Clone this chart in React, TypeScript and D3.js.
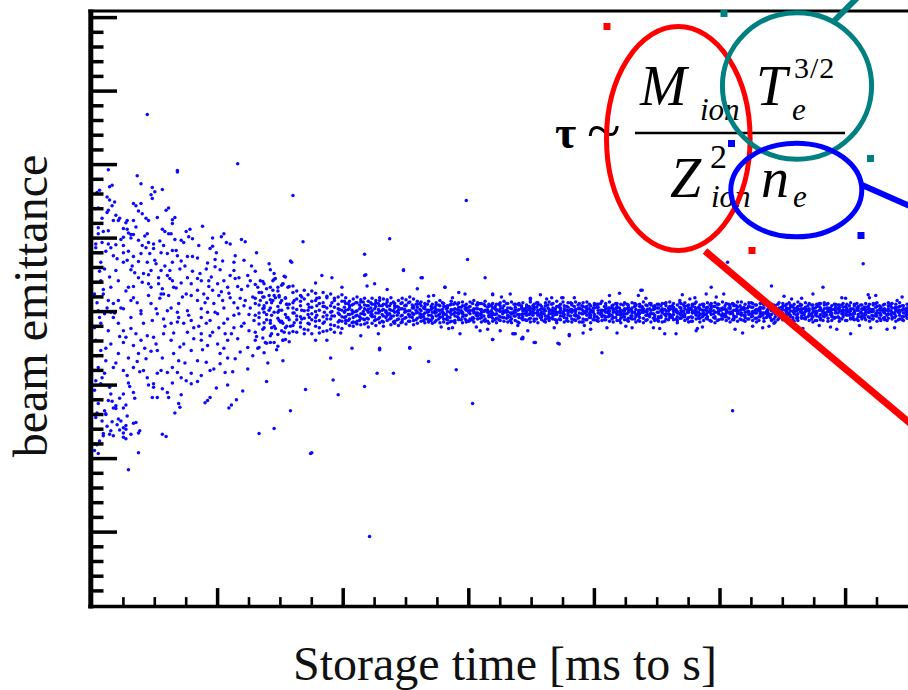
import React from 'react';
import * as d3 from 'd3';

// Storage time (arbitrary units, major tick every 100) and beam emittance (arbitrary units, major tick every 100)
const xMajorTicks = [0, 100, 200, 300, 400, 500, 600];
const xMinorTicks = [25, 50, 75, 125, 150, 175, 225, 250, 275, 325, 350, 375, 425, 450, 475, 525, 550, 575, 625];
const yMajorTicks = [100, 200, 300, 400, 500, 600, 700, 800];
const yMinorTicks = [20, 40, 60, 80, 120, 140, 160, 180, 220, 240, 260, 280, 320, 340, 360, 380, 420, 440, 460, 480, 520, 540, 560, 580, 620, 640, 660, 680, 720, 740, 760, 780];

const xLabel = 'Storage time [ms to s]';
const yLabel = 'beam emittance';

// early (hot) beam: [time, emittance]
const earlyPoints: [number, number][] = [
[14,570],[39,574],[48,569],[56,566],[47,559],[48,554],[4,562],[12,556],
[33,547],[39,547],[61,541],[37,537],[16,544],[12,535],[5,541],[17,524],[21,524],[28,524],[33,524],[45,524],[64,525],[64,520],
[5,514],[13,510],[25,513],[29,507],[31,505],[33,505],[44,506],[61,506],[63,506],[75,509],[77,502],[5,506],[73,494],[25,501],[37,497],[45,494],[49,492],[57,490],[105,506],[107,494],[119,498],[25,490],
[3,492],[13,492],[25,480],[17,476],[20,472],[29,482],[33,475],[39,479],[43,487],[46,479],[49,486],[55,480],[64,483],[67,483],[60,479],[68,476],[76,475],[80,475],[84,473],[94,486],[98,471],[104,469],[114,476],[113,467],[141,465],[142,457],[158,469],[64,467],[71,469],[37,468],[44,467],[51,465],[25,467],[7,467],[10,458],
[19,456],[31,457],[47,456],[55,456],[62,456],[70,458],[34,453],[37,446],[41,452],[53,446],[60,449],[64,442],[62,445],[76,446],[84,445],[91,458],[98,461],[102,457],[113,456],[110,449],[117,446],[124,449],[126,442],[134,442],[144,442],[146,445],[152,438],[7,442],[15,433],[21,442],[29,433],[33,434],[45,438],[47,433],[53,438],[56,431],[65,433],[71,439],[79,438],[87,442],[93,442],[93,434],[100,438],[105,442],[108,433],[116,434],[124,435],[132,433],[137,438],[144,429],[148,433],[156,433],
[2,424],[9,424],[13,415],[17,411],[21,415],[23,405],[25,404],[31,415],[33,419],[45,422],[47,411],[55,424],[57,424],[61,422],[63,405],[69,411],[75,424],[79,422],[84,429],[84,415],[89,424],[92,418],[96,429],[97,411],[101,422],[104,415],[105,405],[110,419],[113,412],[118,418],[122,415],[126,405],[130,411],[134,415],[137,408],[141,422],[144,415],[146,419],[150,412],[154,418],[156,405],[60,401],[68,399],[76,401],[87,404],[92,399],[116,405],[137,399],[148,399],[39,401],[15,399],[5,401],
[10,397],[17,392],[21,384],[7,384],[2,378],[13,374],[25,374],[31,377],[39,397],[41,384],[48,388],[52,397],[57,390],[63,384],[69,392],[73,384],[79,388],[81,378],[87,392],[91,384],[94,388],[100,397],[101,378],[105,384],[108,390],[113,378],[117,397],[121,384],[125,374],[129,388],[133,392],[137,378],[142,388],[146,377],[152,384],[156,392],[35,370],[44,367],[57,370],[65,371],[87,370],[94,367],[106,370],
[3,361],[15,356],[25,358],[33,354],[39,361],[49,365],[51,356],[63,361],[73,356],[81,363],[87,361],[92,354],[100,356],[108,361],[116,363],[124,351],[132,350],[137,344],[142,358],[152,361],[7,347],[11,333],[21,343],[29,337],[37,343],[43,336],[52,347],[56,337],[65,343],[69,333],[79,347],[84,333],[91,331],[102,343],[108,337],[114,336],[152,333],
[5,324],[10,316],[17,324],[25,320],[28,313],[33,324],[41,320],[44,310],[52,316],[60,317],[64,324],[68,317],[71,310],[79,316],[87,313],[94,320],[102,329],[106,317],[75,306],[3,306],[7,302],[29,303],[49,302],[64,303],[79,302],[49,297],
[2,293],[15,288],[25,288],[33,290],[48,283],[52,283],[56,295],[61,283],[69,275],[92,279],[94,283],[109,269],[5,275],[13,279],[17,269],[19,272],[25,269],[10,265],
[3,256],[11,261],[21,254],[25,242],[25,235],[33,248],[15,238],[9,234],[17,231],[25,229],[37,235],[59,230],[133,234],[145,241],[2,220],[6,224],[5,207],[37,208],[158,265],[29,185],
[13,593],[36,585],[68,590],[6,565],[16,572],[50,563],[14,552],[18,549],[35,544],[59,538],[40,533],[66,528],[43,527],[27,521],[22,527],[19,531],[13,538],[78,512],[80,499],[71,497],[96,489],[103,502],[110,492],[122,495],[58,509],[66,498],[42,503],[54,496],[31,500],[28,512],[23,498],[19,491],[9,509],[8,494],[3,487],[15,487],
[16,278],[19,268],[27,273],[11,260],[23,251],[20,246],[8,251],[27,245],[35,249],[12,244],[22,239],[27,240],[31,233],[38,238],[14,233],[9,231],[27,227],[56,233],[4,219],[2,211],[70,270],[90,276],[111,273],
[3,540],[8,527],[11,482],[6,455],[14,447],[9,430],[4,412],[12,405],[18,398],[6,392],[22,366],[11,350],[4,340],[19,330],[8,310],[14,297],[22,282],[4,262],[16,250],[28,258],[34,282],[30,298],[38,318],[36,332],[42,350],[27,365],[31,392],[36,412],[27,428],[40,440],[32,462],[28,470],[40,490],[35,515],[52,528],[56,512],[50,470],[58,462],[45,450],[54,418],[51,404],[58,380],[47,346],[55,320],[45,300],[60,290],[66,262],[71,287],[74,330],[70,352],[76,372],[68,386],[77,395],[72,420],[67,432],[80,455],[74,462],[85,490],[88,516],[96,500],[99,480],[92,466],[86,452],[95,447],[103,427],[90,412],[98,399],[85,380],[96,372],[88,348],[97,322],[84,305],[99,296],[108,300],[112,318],[105,350],[118,345],[111,370],[119,380],[113,395],[121,408],[109,425],[119,430],[114,445],[127,462],[121,470],[131,480],[130,455],[128,420],[135,426],[125,396],[131,366],[128,340],[138,358],[124,322],[140,330],[147,348],[143,370],[150,386],[141,402],[149,422],[145,452],[153,448],[155,410],[158,380],[153,372],[139,305],[120,292],[115,280]
];

// cooled beam, columns of [time, emittance values...]
const bandColumns: number[][] = [
[130,372,418,395,437,361],[133,409,383,426,351,398],[136,441,376,404,364,420],[139,357,412,389,431,396],[142,384,433,367,405,416],
[145,422,358,399,380,444],[148,369,407,428,391,353],[151,415,374,436,387,402],[154,396,362,419,447,378],[157,434,389,371,410,359],
[160,381,412,398,426,373,405],[163,417,389,372,403,428,394],[166,393,422,408,379,385,414],[169,376,401,429,391,417,370],[172,410,384,396,423,375,402],
[175,428,370,406,389,414,397],[178,387,415,380,400,425,392],[181,402,378,419,411,388,371],[184,373,407,393,426,384,412],[187,419,395,374,405,390,421],
[190,390,424,408,382,399,376],[193,406,381,415,394,372,418],[196,379,410,398,420,386,404],[199,414,387,377,402,423,393],
[202,393,411,384,402,419,388],[205,405,381,396,414,390,408],[208,386,399,417,392,380,410],[211,412,395,387,420,401,383],[214,397,416,382,406,391,413],
[217,383,404,409,396,418,389],[220,408,390,379,414,399,403],[223,401,418,393,384,410,396],[226,389,407,415,398,381,412],[229,415,385,400,392,408,419],
[232,394,410,386,417,403,380],[235,407,398,413,388,395,416],[238,382,402,394,411,419,391],[241,411,387,405,399,384,408],[244,398,415,390,381,406,402],
[247,386,404,418,395,412,389],[250,409,392,383,408,400,416],[253,395,413,401,387,420,393],[256,417,388,407,396,382,405],[259,391,406,414,384,399,410],
[262,396,408,387,401,413,392],[265,404,390,411,385,398,407],[268,389,402,395,414,386,400],[271,410,393,384,405,399,391],[274,399,412,403,388,394,409],
[277,385,397,408,392,415,402],[280,407,386,398,411,390,396],[283,393,405,389,400,408,384],[286,401,414,396,387,403,410],[289,388,399,412,394,385,404],
[292,412,391,402,406,397,389],[295,397,408,385,399,413,393],[298,405,388,410,395,402,386],[301,390,401,397,413,388,407],[304,398,415,391,386,404,400],
[307,409,394,404,398,390,412],[310,386,403,411,392,399,396],[313,402,390,387,408,414,401],[316,395,407,399,384,393,410],[319,411,398,405,396,387,391],
[322,391,385,402,410,403,397],[325,404,412,393,388,400,408],[328,387,399,408,401,392,414],[331,400,392,386,405,411,395],[334,413,404,397,390,398,385],
[337,394,388,410,403,406,399],[340,403,409,392,396,385,411],[343,389,401,404,412,397,393],[346,406,395,388,399,409,402],[349,397,413,400,386,391,405],
[352,410,390,406,398,403,387],[355,385,402,395,409,412,399],[358,399,407,389,393,404,396],[361,408,394,412,401,386,390],[364,392,400,403,388,397,413],
[367,401,411,394,405,390,398],[370,388,396,407,399,414,385],[373,405,389,398,410,402,394],[376,396,404,386,392,408,401],[379,412,398,401,387,395,406],
[382,390,386,409,403,399,411],[385,403,413,396,394,388,400],[388,398,392,404,411,405,386],[391,386,401,390,397,412,407],[394,407,395,413,400,389,403],
[397,395,408,399,385,402,392],[400,411,389,405,396,393,409],[403,391,402,387,410,406,398],[406,400,414,393,402,396,388],[409,404,393,408,389,399,411],
[412,387,405,401,397,413,394],[415,409,399,386,404,392,401],[418,396,388,411,400,405,407],[421,402,410,395,391,398,385],[424,389,397,404,412,401,393],
[427,406,391,399,387,409,403],[430,398,412,390,405,394,400],[433,393,403,408,396,386,410],[436,410,387,397,402,407,392],[439,385,401,413,399,391,404],
[442,403,396,389,408,400,395],[445,397,409,402,386,411,398],[448,408,392,395,404,388,406],[451,391,405,410,393,399,387],[454,400,398,386,411,404,402],
[457,412,394,401,397,390,408],[460,394,407,392,403,413,396],[463,403,389,406,400,396,411],[466,388,400,398,409,385,393],[469,405,411,391,395,402,399],
[472,396,393,412,388,407,404],[475,409,402,399,405,392,386],[478,392,408,387,398,410,401],[481,401,395,404,413,397,390],[484,386,404,396,391,403,409],
[487,407,398,410,402,388,395],[490,399,390,393,406,412,400],[493,411,405,401,387,396,408],[496,393,412,407,399,391,385],[499,404,397,389,410,400,402],
[502,390,403,413,394,405,397],[505,402,388,398,401,393,411],[508,397,409,404,386,399,406],[511,410,394,391,408,402,389],[514,387,401,406,397,413,400],
[517,405,413,395,389,398,403],[520,395,399,410,404,387,392],[523,408,390,400,396,407,412],[526,400,406,388,411,394,398],[529,391,398,403,402,409,386],
[532,406,411,397,393,400,404],[535,398,387,409,405,391,410],[538,412,402,394,399,403,396],[541,389,396,401,388,410,407],[544,403,408,386,404,397,393],
[547,394,391,412,400,405,399],[550,407,403,398,392,389,411],[553,399,410,405,396,402,388],[556,386,395,393,409,406,401],[559,410,404,400,387,399,397],
[562,397,388,407,403,413,392],[565,404,400,391,398,394,409],[568,392,412,403,406,390,400],[571,401,397,388,411,404,395],[574,409,405,399,393,386,403],
[577,388,394,410,400,407,398],[580,405,402,396,389,411,391],[583,398,409,404,397,393,412],[586,411,391,387,403,400,405],[589,393,403,408,395,398,388],
[592,402,398,392,410,406,401],[595,387,406,400,404,391,409],[598,406,393,411,399,402,396],[601,399,410,395,388,405,403],[604,391,401,404,412,396,390],
[607,408,397,389,401,410,399],[610,396,405,407,393,388,402],[613,403,390,398,409,404,394],[616,389,411,402,396,399,406],[619,410,399,392,404,387,400],
[622,400,394,409,390,403,411],[625,394,407,401,398,412,387],[628,405,402,388,406,395,397],[631,398,389,410,400,404,392],[634,412,404,397,391,401,408],
[637,390,398,405,411,393,399],[640,401,410,394,387,406,403],[643,407,395,402,399,390,412],[646,393,403,408,404,398,388],[649,402,391,396,410,405,399]
];

// further cooled-beam readings between the columns above
const bandColumns2: number[][] = [
[137,405,385,420],[143,395,412,378],[149,388,420,402],[155,410,392,380],[161,398,385,415],[167,402,420,390],[173,392,406,383],[179,408,395,418],[185,399,386,407],[191,412,394,400],[197,388,403,396],
[201,392,406,399,414],[204,403,388,411,396],[207,397,409,385,402],[210,385,400,394,412],[213,409,393,404,388],
[216,400,413,390,397],[219,391,402,408,385],[222,412,395,399,405],[225,388,404,393,410],[228,403,398,411,390],
[231,396,387,402,408],[234,410,401,392,399],[237,390,408,397,403],[240,401,394,413,386],[243,407,389,400,395],
[246,394,411,385,404],[249,399,403,408,391],[252,387,396,401,412],[255,405,392,398,409],[258,398,410,389,402],
[261,411,397,403,393],[264,393,405,396,388],[267,402,390,410,399],[270,388,403,395,407],[273,406,398,386,401],
[276,395,409,402,390],[279,403,393,399,412],[282,390,404,407,396],[285,409,399,392,386],[288,397,387,403,410],
[291,403,410,398,393],[294,389,401,406,399],[297,408,395,390,404],[300,399,406,401,387],[303,392,389,411,402],
[306,404,398,395,409],[309,396,411,403,391],[312,410,394,388,400],[315,387,402,399,406],[318,401,408,393,397],
[321,407,396,404,389],[324,394,389,410,401],[327,400,405,397,392],[330,391,399,402,411],[333,405,393,388,398],
[336,398,410,400,394],[339,410,402,396,386],[342,396,391,405,408],[345,389,404,401,397],[348,403,396,390,407],
[351,395,408,403,399],[354,406,390,398,412],[357,392,403,409,396],[360,401,397,387,404],[363,409,405,394,391],
[366,397,391,402,410],[369,404,400,389,396],[372,390,408,406,399],[375,399,394,398,413],[378,407,402,391,388],
[381,394,412,400,403],[384,401,389,407,395],[387,391,404,394,409],[390,408,397,403,386],[393,398,406,389,400],
[396,404,392,410,397],[399,389,401,399,405],[402,406,410,393,388],[405,396,398,402,411],[408,402,389,407,394],
[411,393,405,398,401],[414,405,395,390,408],[417,399,411,404,392],[420,388,400,396,405],[423,409,393,401,397],
[426,397,404,410,389],[429,403,391,394,402],[432,390,407,399,411],[435,401,398,388,395],[438,407,402,405,399],
[441,395,388,400,409],[444,404,411,393,396],[447,391,397,407,403],[450,399,405,389,410],[453,408,394,402,392],
[456,396,403,411,387],[459,405,389,397,401],[462,392,408,395,404],[465,401,400,403,390],[468,397,412,391,406],
[471,409,396,400,393],[474,390,402,408,399],[477,403,393,387,405],[480,398,406,401,411],[483,406,399,394,391],
[486,393,410,397,402],[489,402,391,405,396],[492,388,403,399,409],[495,407,397,392,401],[498,399,405,410,388],
[501,395,390,402,404],[504,404,408,396,393],[507,391,399,405,410],[510,400,411,389,397],[513,408,393,401,403],
[516,397,402,408,390],[519,403,388,395,406],[522,390,405,400,399],[525,406,397,412,393],[528,398,409,391,402],
[531,393,401,404,388],[534,405,395,398,411],[537,400,410,392,397],[540,396,392,406,404],[543,409,403,399,390],
[546,389,398,410,401],[549,402,406,395,393],[552,395,389,402,408],[555,404,412,398,396],[558,392,400,407,389],
[561,401,395,391,405],[564,408,403,400,410],[567,396,391,404,398],[570,403,408,393,401],[573,390,397,409,394],
[576,400,405,396,388],[579,407,393,402,411],[582,394,401,388,399],[585,399,410,405,395],[588,405,396,399,402],
[591,391,403,410,392],[594,409,398,393,404],[597,397,390,401,409],[600,402,407,396,388],[603,395,399,408,401],
[606,404,393,390,397],[609,390,402,405,411],[612,399,409,398,393],[615,406,396,392,403],[618,393,404,407,399],
[621,403,390,400,395],[624,397,411,394,406],[627,408,398,403,391],[630,391,403,409,400],[633,402,396,395,388],
[636,396,407,401,410],[639,405,392,398,397],[642,399,401,406,389],[645,389,408,393,402],[648,404,397,400,394]
];

// points at the edges of the cooled band: [time, emittance]
const fringePoints: [number, number][] = [
[152,438],[160,435],[178,439],[183,449],[191,446],[218,450],[248,456],[263,446],[199,433],[219,435],[225,438],[235,430],[259,431],[281,433],[272,422],[287,419],[319,423],[349,418],[366,419],[375,419],
[152,361],[178,361],[187,361],[198,371],[207,350],[214,367],[228,370],[229,350],[253,351],[293,370],[319,362],[342,363],[353,358],[372,356],[380,367],[309,374],[287,378],[335,370],
[319,424],[349,416],[374,419],[438,429],[435,422],[468,415],[480,419],[489,424],[565,418],[597,419],[619,419],[641,415],
[343,365],[418,371],[456,370],[465,370],[481,374],[518,371],[526,380],[604,370],[620,378],[325,374],[337,370],[347,374],[391,371],[410,378],[430,378],[482,377],[543,384],[579,381],
[268,421],[284,377],[297,424],[306,379],[326,420],[339,381],[357,423],[368,378],[384,419],[397,376],[412,422],[425,380],[441,418],[452,377],[470,423],[486,379],[497,420],[512,376],[528,422],[539,380],[551,421],[566,377],[574,424],[588,379],[600,418],[611,381],[624,422],[633,376],[645,420],[278,379],[292,426],[315,376],[333,424],[362,417],[392,381],[420,425],[447,378],[476,417],[503,424],[534,378],[557,417],[593,376],[618,423],[639,378]
];

// isolated points far from the beam core: [time, emittance]
const outlierPoints: [number, number][] = [
[44,668],[116,601],[68,592],[160,558],[298,551],[237,499],[299,471],[217,478],[168,495],[159,467],[248,457],[313,446],[262,446],[281,433],[217,449],
[174,207],[303,275],[290,321],[268,332],[240,316],[227,316],[217,298],[196,287],[192,307],[170,294],[253,350],[229,348],[190,337],[221,94],[175,208],
[510,265],[319,362],[406,344],[506,467],[614,465],[541,435],[582,433],[493,433],[437,429],[371,357],[352,358],[343,363],[336,370],[380,369]
];

const W = 908;
const H = 690;
const yTop = 809;

const x = d3.scaleLinear().domain([0, 650]).range([92, 908.4]);
const y = d3.scaleLinear().domain([0, 800]).range([605.6, 17.6]);

const SERIF = '"Liberation Serif", "Times New Roman", "DejaVu Serif", serif';

const expand = (cols: number[][]): [number, number][] =>
  cols.flatMap(([t, ...es]) => es.map((e) => [t, e] as [number, number]));

export default function App() {
  const allPoints = [...earlyPoints, ...expand(bandColumns), ...expand(bandColumns2), ...fringePoints, ...outlierPoints];
  const x0 = x(0) - 1.2;
  const yBase = y(0) + 1;

  return (
    <svg width={W} height={H} style={{ position: 'absolute', left: 0, top: 0, background: '#fff' }}>
      <rect x={0} y={0} width={W} height={H} fill="#fff" />
      {/* data */}
      <g>
        {allPoints.map(([t, e], i) => (
          <circle key={i} cx={x(t)} cy={y(e)} r={1.75} fill="#0a0aff" />
        ))}
      </g>
      {/* frame */}
      <line x1={88.3} x2={W} y1={y(yTop)} y2={y(yTop)} stroke="#000" strokeWidth={3} />
      <line x1={88.3} x2={W} y1={yBase} y2={yBase} stroke="#000" strokeWidth={3.5} />
      <line x1={x0} x2={x0} y1={y(yTop) - 1.5} y2={yBase + 1.8} stroke="#000" strokeWidth={5} />
      {yMajorTicks.map((v) => (
        <line key={'ym' + v} x1={x0} x2={117} y1={y(v)} y2={y(v)} stroke="#000" strokeWidth={3.5} />
      ))}
      {yMinorTicks.map((v) => (
        <line key={'yn' + v} x1={x0} x2={103.5} y1={y(v)} y2={y(v)} stroke="#000" strokeWidth={3.5} />
      ))}
      {xMajorTicks.filter((v) => v > 0).map((v) => (
        <line key={'xm' + v} x1={x(v)} x2={x(v)} y1={yBase} y2={yBase - 18.5} stroke="#000" strokeWidth={3.5} />
      ))}
      {xMinorTicks.map((v) => (
        <line key={'xn' + v} x1={x(v)} x2={x(v)} y1={yBase} y2={yBase - 9.5} stroke="#000" strokeWidth={2.6} />
      ))}
      {/* axis labels */}
      <text x={505} y={680} textAnchor="middle" fontFamily={SERIF} fontSize={48} fill="#111">{xLabel}</text>
      <text transform="translate(47,306) rotate(-90)" textAnchor="middle" fontFamily={SERIF} fontSize={48} fill="#111">{yLabel}</text>

      {/* formula */}
      <g fontFamily={SERIF} fill="#000">
        <text x={555} y={148} fontSize={46} fontWeight="bold">τ</text>
        <text x={587} y={151} fontSize={62}>~</text>
        <line x1={635} x2={845} y1={133} y2={133} stroke="#000" strokeWidth={2.6} />
        <text x={640} y={105} fontSize={56} fontStyle="italic">M</text>
        <text x={700} y={120} fontSize={31} fontStyle="italic">ion</text>
        <text x={756} y={105} fontSize={56} fontStyle="italic">T</text>
        <text x={792} y={120} fontSize={31} fontStyle="italic">e</text>
        <text x={794} y={78} fontSize={30} letterSpacing={1}>3/2</text>
        <text x={670} y={197} fontSize={56} fontStyle="italic">Z</text>
        <text x={710} y={168} fontSize={34}>2</text>
        <text x={711} y={207} fontSize={31} fontStyle="italic">ion</text>
        <text x={761} y={197} fontSize={56} fontStyle="italic">n</text>
        <text x={793} y={207} fontSize={31} fontStyle="italic">e</text>
      </g>

      {/* highlight ellipses and leader lines */}
      <line x1={705} y1={251} x2={930} y2={440} stroke="#ff0000" strokeWidth={7} />
      <line x1={834} y1={21} x2={860} y2={-5} stroke="#008080" strokeWidth={6} />
      <line x1={862} y1={185} x2={930} y2={215} stroke="#0000ff" strokeWidth={6} />
      <ellipse cx={678.3} cy={138.5} rx={71.8} ry={112} fill="none" stroke="#ff0000" strokeWidth={5} />
      <ellipse cx={797} cy={86} rx={74.6} ry={73.3} fill="none" stroke="#008080" strokeWidth={5} />
      <ellipse cx={796.3} cy={190} rx={65.5} ry={46.8} fill="none" stroke="#0000ff" strokeWidth={5} />
      {/* selection handles */}
      <rect x={603.5} y={23} width={7} height={7} fill="#ff0000" />
      <rect x={748.5} y={247} width={7} height={7} fill="#ff0000" />
      <rect x={720.5} y={10} width={7} height={7} fill="#008080" />
      <rect x={867} y={155} width={7} height={7} fill="#008080" />
      <rect x={728} y={140} width={7} height={7} fill="#0000ff" />
      <rect x={857.5} y={232} width={7} height={7} fill="#0000ff" />
    </svg>
  );
}
